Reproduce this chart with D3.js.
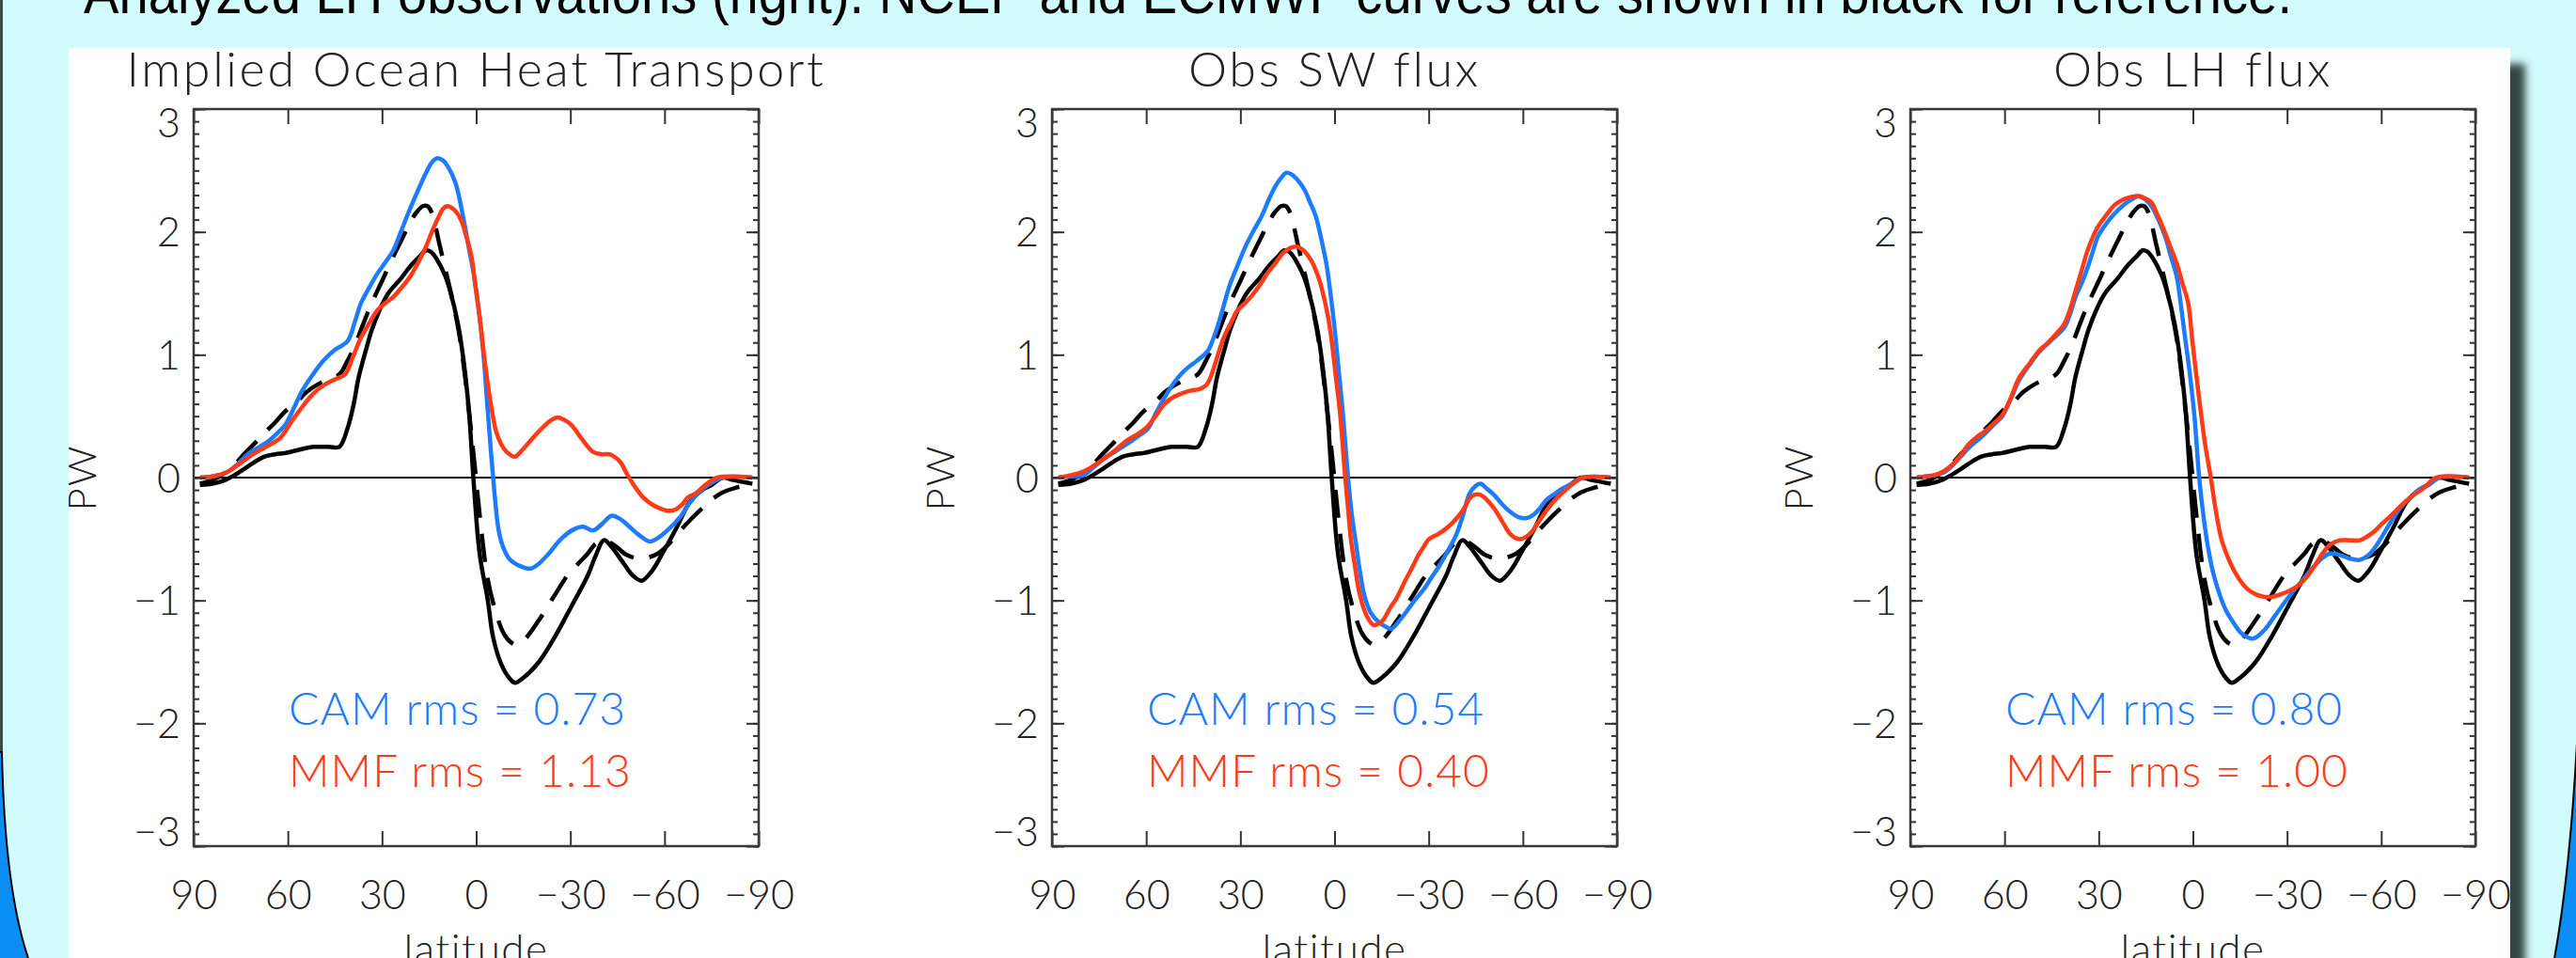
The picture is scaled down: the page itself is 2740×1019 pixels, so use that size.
<!DOCTYPE html>
<html>
<head>
<meta charset="utf-8">
<script src="https://cdn.jsdelivr.net/npm/d3@7"></script>
<style>
  html, body { margin: 0; padding: 0; background: #d2fbfb; overflow: hidden; }
  svg { display: block; }
</style>
</head>
<body>
<svg id="chart"></svg>
<script>
// reference curves (same in every panel): [latitude, PW]
var blackSolid = [[88,-0.06],[84,-0.05],[80,-0.02],[77,0.02],[74.5,0.06],[71,0.12],[67.6,0.17],[64,0.19],[60.8,0.2],[56,0.23],[52,0.25],[47,0.25],[43.6,0.25],[41,0.4],[39,0.6],[37.5,0.81],[35,1.05],[33.3,1.2],[30.5,1.38],[28,1.5],[24,1.62],[21,1.72],[18,1.8],[16,1.85],[14.5,1.84],[12.6,1.78],[10,1.65],[8.3,1.52],[5.8,1.25],[4,0.95],[2.3,0.54],[0.9,0],[-1.1,-0.62],[-3.7,-1.0],[-5.4,-1.3],[-8,-1.52],[-10.5,-1.63],[-12.3,-1.67],[-15,-1.63],[-20,-1.5],[-25.2,-1.29],[-30.3,-1.05],[-35.5,-0.8],[-38,-0.64],[-40.7,-0.51],[-43,-0.56],[-47,-0.7],[-50,-0.8],[-52.7,-0.84],[-56,-0.76],[-59.5,-0.61],[-64,-0.4],[-68,-0.2],[-72,-0.1],[-75,-0.06],[-78.5,0],[-82,-0.02],[-88,-0.05]];
var blackDashed = [[88,-0.05],[84,-0.02],[80,0.04],[76.5,0.12],[73.6,0.2],[70.5,0.28],[67.6,0.36],[64,0.45],[60.8,0.54],[57,0.62],[53.9,0.7],[49,0.78],[43.6,0.84],[41,0.95],[38.4,1.09],[35.7,1.27],[33.3,1.42],[30,1.6],[26.4,1.8],[23.5,1.95],[21.2,2.07],[19,2.16],[17,2.21],[15.5,2.21],[14.4,2.17],[13,2.05],[11.8,1.91],[9.2,1.63],[7,1.38],[4.9,1.09],[2.3,0.54],[0.6,0.13],[-1.1,-0.3],[-3.7,-0.83],[-6.3,-1.1],[-8.8,-1.27],[-11,-1.34],[-13,-1.36],[-15.7,-1.31],[-20,-1.16],[-25.2,-0.95],[-29.5,-0.78],[-32.5,-0.7],[-35.5,-0.62],[-38,-0.54],[-40.7,-0.51],[-44,-0.55],[-48,-0.63],[-52.7,-0.66],[-57.8,-0.62],[-61,-0.55],[-64.7,-0.44],[-68,-0.35],[-71.6,-0.26],[-75,-0.18],[-78.5,-0.12],[-83,-0.08],[-88,-0.05]];

// Implied Ocean Heat Transport
var camOHT = [[88,0],[84,0.01],[79.7,0.04],[76,0.11],[72.8,0.19],[69,0.25],[66,0.3],[63,0.37],[60.8,0.43],[58,0.57],[55.6,0.7],[52,0.84],[48.7,0.95],[45,1.04],[41,1.11],[38.5,1.28],[36.7,1.42],[34,1.55],[31.5,1.66],[29,1.75],[26.4,1.85],[24,2.0],[21.2,2.18],[18.5,2.34],[16,2.48],[14,2.57],[12.3,2.6],[10.5,2.58],[9.2,2.54],[6.6,2.4],[4,2.1],[2.2,1.85],[0.6,1.63],[-2,1.09],[-3.7,0.54],[-5.4,0],[-7.1,-0.42],[-8.5,-0.56],[-10.5,-0.66],[-14,-0.72],[-17.4,-0.74],[-20,-0.7],[-23.4,-0.61],[-27,-0.5],[-31.2,-0.42],[-34,-0.4],[-37.2,-0.43],[-40,-0.38],[-43.2,-0.31],[-46,-0.34],[-48.4,-0.39],[-52,-0.47],[-55.3,-0.52],[-58,-0.49],[-61.3,-0.42],[-65,-0.32],[-68.2,-0.2],[-71,-0.12],[-73.4,-0.07],[-78.5,0],[-88,0]];
var mmfOHT = [[88,0],[84,0.01],[79.7,0.04],[75,0.12],[71.1,0.19],[67,0.25],[62.5,0.32],[59,0.45],[55.6,0.57],[52,0.68],[48.7,0.75],[45,0.8],[41.8,0.84],[39,1.0],[36.7,1.14],[34,1.26],[31.5,1.36],[29,1.42],[26.4,1.47],[24,1.54],[21.2,1.63],[18.5,1.75],[16,1.88],[13.8,2.02],[11.8,2.13],[10.5,2.19],[9.2,2.21],[7,2.18],[4.9,2.1],[3,1.95],[1.5,1.8],[0.2,1.55],[-1.1,1.31],[-2.4,1.02],[-3.7,0.76],[-5,0.55],[-6.3,0.38],[-8,0.27],[-9.7,0.21],[-12.3,0.17],[-14.5,0.22],[-16.6,0.28],[-19,0.35],[-21.7,0.42],[-24,0.47],[-26,0.49],[-28,0.47],[-30.3,0.43],[-33.5,0.32],[-37.2,0.21],[-40,0.19],[-42.4,0.19],[-45.8,0.13],[-48,0.03],[-51,-0.09],[-53.5,-0.17],[-56.1,-0.22],[-58.5,-0.25],[-61.3,-0.27],[-63.5,-0.26],[-65.6,-0.22],[-67.5,-0.16],[-69.9,-0.13],[-73,-0.06],[-76.8,0],[-88,0]];

// Obs SW flux
var camSW = [[88,0],[84,0.01],[80,0.02],[76.5,0.09],[73.1,0.16],[70,0.21],[66.3,0.27],[63,0.33],[59.4,0.4],[57,0.52],[54.2,0.65],[51.5,0.76],[49,0.84],[46.5,0.9],[43.9,0.95],[40.4,1.03],[38.5,1.14],[37,1.25],[35.3,1.4],[33.6,1.55],[31,1.72],[28.4,1.88],[25.8,2.01],[23.2,2.13],[21,2.26],[18.9,2.37],[17,2.44],[15.5,2.48],[13.8,2.47],[12,2.43],[9.5,2.34],[7.8,2.24],[6,2.13],[4.3,1.95],[2.6,1.74],[1.3,1.5],[0,1.22],[-1.3,0.88],[-2.6,0.54],[-4.3,0],[-5.5,-0.3],[-6.9,-0.55],[-8,-0.75],[-9.5,-0.96],[-11.5,-1.1],[-13.8,-1.17],[-16,-1.21],[-18.1,-1.23],[-20.5,-1.17],[-23.2,-1.08],[-25.8,-0.99],[-28.4,-0.91],[-31,-0.81],[-33.6,-0.71],[-36,-0.6],[-38.7,-0.47],[-41,-0.3],[-43,-0.13],[-44.8,-0.07],[-46.5,-0.05],[-48.5,-0.09],[-50.8,-0.14],[-53.5,-0.22],[-56,-0.28],[-58.5,-0.32],[-61.1,-0.33],[-63.5,-0.3],[-65.4,-0.25],[-67.5,-0.18],[-69.7,-0.14],[-72,-0.1],[-74.8,-0.06],[-79.1,0],[-88,0]];
var mmfSW = [[88,0],[84,0.02],[80,0.05],[76.5,0.1],[73.1,0.16],[70,0.22],[66.3,0.3],[63,0.35],[60.2,0.4],[57,0.5],[54.2,0.6],[51,0.66],[48.2,0.69],[45.5,0.71],[43,0.72],[41,0.75],[39.6,0.81],[37.5,0.97],[35.3,1.14],[33,1.26],[31,1.36],[28.5,1.42],[26.7,1.47],[24,1.56],[21.5,1.66],[19,1.74],[16.3,1.83],[14,1.87],[12,1.88],[10.5,1.86],[9.5,1.84],[7.5,1.77],[6,1.69],[4.5,1.58],[3.4,1.47],[2,1.3],[0.9,1.11],[-0.5,0.8],[-1.7,0.54],[-3.4,0],[-4.3,-0.25],[-5.2,-0.5],[-6.5,-0.72],[-7.7,-0.91],[-9.5,-1.08],[-11,-1.16],[-12.5,-1.2],[-14,-1.19],[-15.5,-1.16],[-17.5,-1.07],[-19.8,-0.98],[-22.5,-0.84],[-25,-0.72],[-26.7,-0.63],[-28.5,-0.56],[-30.1,-0.5],[-33,-0.46],[-35.3,-0.42],[-37.5,-0.37],[-39.6,-0.31],[-41.5,-0.24],[-43,-0.17],[-44.5,-0.14],[-46.5,-0.14],[-48.5,-0.18],[-50.8,-0.25],[-53.5,-0.36],[-56,-0.46],[-58.6,-0.5],[-60.5,-0.49],[-62.9,-0.44],[-65,-0.36],[-67.2,-0.28],[-70,-0.19],[-73.2,-0.11],[-76,-0.05],[-79.1,0],[-88,0]];

// Obs LH flux
var camLH = [[88,0],[85,0.01],[82.3,0.02],[79.5,0.04],[76.9,0.09],[74,0.17],[71.5,0.24],[68.8,0.3],[66.1,0.36],[63.5,0.43],[60.7,0.5],[58,0.64],[55.4,0.79],[52,0.92],[49.1,1.02],[45,1.12],[41,1.22],[39,1.34],[37.4,1.47],[35.5,1.58],[33.8,1.69],[32,1.83],[30.3,1.96],[27.5,2.07],[24.9,2.15],[22.5,2.21],[20.4,2.25],[18.5,2.28],[17.2,2.29],[15,2.26],[13.2,2.21],[11,2.1],[8.8,1.96],[7,1.8],[5.1,1.63],[3.8,1.4],[2.5,1.14],[1,0.85],[-0.5,0.5],[-2,0],[-3.3,-0.3],[-4.7,-0.55],[-6.5,-0.78],[-8.5,-0.95],[-10.5,-1.08],[-12.9,-1.18],[-15.6,-1.27],[-19.2,-1.31],[-22.8,-1.24],[-26,-1.13],[-29.1,-1.02],[-31.5,-0.94],[-34.4,-0.85],[-38,-0.74],[-41,-0.66],[-43.4,-0.62],[-46.9,-0.63],[-50,-0.66],[-53.2,-0.67],[-55.5,-0.64],[-57.7,-0.58],[-60.5,-0.47],[-63.1,-0.36],[-66,-0.25],[-69.3,-0.16],[-72.5,-0.09],[-75.6,-0.05],[-78.3,0],[-88,0]];
var mmfLH = [[88,0],[85,0.01],[82.3,0.02],[79.5,0.05],[76.9,0.1],[74,0.18],[71.5,0.27],[68.8,0.33],[66.1,0.38],[63.5,0.44],[60.7,0.51],[58,0.65],[55.4,0.81],[52,0.93],[49.1,1.03],[46.5,1.09],[44.6,1.14],[41,1.25],[39,1.38],[37.4,1.52],[35.5,1.68],[33.8,1.83],[32,1.95],[30.3,2.04],[27.5,2.14],[24.9,2.22],[22.5,2.26],[20.4,2.28],[18.5,2.29],[16.8,2.29],[15,2.27],[13.2,2.24],[11.5,2.15],[9.6,2.04],[7.5,1.9],[5.1,1.74],[3.3,1.58],[1.5,1.42],[0.2,1.12],[-1.2,0.81],[-2.5,0.54],[-3.9,0.27],[-5.7,0],[-7.5,-0.3],[-9.3,-0.52],[-12,-0.7],[-14.6,-0.82],[-17.5,-0.91],[-20,-0.95],[-22.5,-0.97],[-25.4,-0.97],[-28,-0.95],[-30.8,-0.92],[-33.5,-0.88],[-36.2,-0.81],[-39,-0.71],[-41.5,-0.61],[-44,-0.54],[-46.9,-0.51],[-50,-0.51],[-53.2,-0.51],[-55.5,-0.48],[-57.7,-0.44],[-60.5,-0.37],[-63.1,-0.31],[-65.8,-0.24],[-68.4,-0.18],[-71,-0.13],[-73.8,-0.08],[-77.4,0],[-88,0]];

var titles = ["Implied Ocean Heat Transport", "Obs SW flux", "Obs LH flux"];
var camRms = ["0.73", "0.54", "0.80"];
var mmfRms = ["1.13", "0.40", "1.00"];
var camSeries = [camOHT, camSW, camLH];
var mmfSeries = [mmfOHT, mmfSW, mmfLH];

var xTicks = [90, 60, 30, 0, -30, -60, -90];
var yTicks = [3, 2, 1, 0, -1, -2, -3];
var header = "Analyzed LH observations (right). NCEP and ECMWF curves are shown in black for reference.";

var width = 2740;
var height = 1019;
var blue = "#1c7bff";
var red = "#ff3a16";
var font = "Lato, 'Open Sans', sans-serif";

var svg = d3.select("#chart")
	.attr("width", width)
	.attr("height", height);

// slide background
svg.append("rect").attr("width", width).attr("height", height).attr("fill", "#d2fbfb");

svg.append("rect").attr("x", 0).attr("y", 0).attr("width", 3).attr("height", 840).attr("fill", "#3b4949");
svg.append("path")
	.attr("d", "M-5,800 L2,800 C4,900 14,975 32,1025 L-5,1025 Z")
	.attr("fill", "#0a8ef3").attr("stroke", "#000").attr("stroke-width", 2);
svg.append("path")
	.attr("d", "M2745,700 C2741,820 2732,940 2716,1025 L2745,1025 Z")
	.attr("fill", "#0a8ef3").attr("stroke", "#000").attr("stroke-width", 2);

var defs = svg.append("defs");
defs.append("filter").attr("id", "blur")
	.attr("x", "-5%").attr("y", "-5%").attr("width", "110%").attr("height", "110%")
	.append("feGaussianBlur").attr("stdDeviation", 4);
defs.append("clipPath").attr("id", "panel")
	.append("rect").attr("x", 73).attr("y", 51).attr("width", 2597).attr("height", 980);

// header line, cut by the top of the picture
svg.append("text")
	.attr("x", 89).attr("y", 14)
	.attr("font-family", "'Liberation Sans Narrow', 'Liberation Sans', sans-serif")
	.attr("font-size", 62)
	.attr("textLength", 2349)
	.attr("lengthAdjust", "spacingAndGlyphs")
	.attr("fill", "#000")
	.text(header);

// shadow + white panel
svg.append("rect").attr("x", 100).attr("y", 68).attr("width", 2586).attr("height", 1000)
	.attr("fill", "#354545").attr("filter", "url(#blur)");
svg.append("rect").attr("x", 73).attr("y", 51).attr("width", 2597).attr("height", 1000).attr("fill", "#fff");

var root = svg.append("g").attr("clip-path", "url(#panel)");

var plotW = 601;
var plotTop = 116, plotBottom = 900;
var minorTicks = d3.range(-30, 31).map(function (d) { return d / 10; });

function fmt(d) { return d < 0 ? "\u2212" + Math.abs(d) : String(d); }

titles.forEach(function (title, i) {
	var left = 206 + i * 913;
	var xScale = d3.scaleLinear().domain([90, -90]).range([left, left + plotW]);
	var yScale = d3.scaleLinear().domain([-3, 3]).range([plotBottom, plotTop]);
	var g = root.append("g");

	// zero line
	g.append("line")
		.attr("x1", left).attr("x2", left + plotW)
		.attr("y1", yScale(0)).attr("y2", yScale(0))
		.attr("stroke", "#000").attr("stroke-width", 2);

	var line = d3.line()
		.x(function (d) { return xScale(d[0]); })
		.y(function (d) { return yScale(d[1]); })
		.curve(d3.curveCatmullRom.alpha(0.5));

	g.append("path").datum(blackSolid).attr("d", line)
		.attr("fill", "none").attr("stroke", "#000").attr("stroke-width", 4.5);
	g.append("path").datum(blackDashed).attr("d", line)
		.attr("fill", "none").attr("stroke", "#000").attr("stroke-width", 4.5)
		.attr("stroke-dasharray", "30,17");
	g.append("path").datum(camSeries[i]).attr("d", line)
		.attr("fill", "none").attr("stroke", blue).attr("stroke-width", 4.5);
	g.append("path").datum(mmfSeries[i]).attr("d", line)
		.attr("fill", "none").attr("stroke", red).attr("stroke-width", 4.5);

	// axes, ticks inward like the original
	var yAxisL = g.append("g").attr("transform", "translate(" + left + ",0)")
		.call(d3.axisLeft(yScale).tickValues(yTicks).tickSize(-13).tickPadding(14).tickFormat(fmt));
	g.append("g").attr("transform", "translate(" + left + ",0)")
		.call(d3.axisLeft(yScale).tickValues(minorTicks).tickSize(-6).tickFormat(""));
	g.append("g").attr("transform", "translate(" + (left + plotW) + ",0)")
		.call(d3.axisRight(yScale).tickValues(yTicks).tickSize(-13).tickFormat(""));
	g.append("g").attr("transform", "translate(" + (left + plotW) + ",0)")
		.call(d3.axisRight(yScale).tickValues(minorTicks).tickSize(-6).tickFormat(""));
	g.append("g").attr("transform", "translate(0," + plotBottom + ")")
		.call(d3.axisBottom(xScale).tickValues(xTicks).tickSize(-16).tickPadding(36).tickFormat(fmt));
	g.append("g").attr("transform", "translate(0," + plotTop + ")")
		.call(d3.axisTop(xScale).tickValues(xTicks).tickSize(-16).tickFormat(""));

	g.selectAll(".domain").remove();
	g.selectAll(".tick line").attr("stroke", "#333").attr("stroke-width", 2);
	g.selectAll(".tick text").attr("font-family", font).attr("font-weight", 300)
		.attr("font-size", 43).attr("fill", "#222");
	yAxisL.selectAll(".tick text").attr("dy", function (d) {
		if (d == 3) return 29;
		if (d == -3) return -1;
		return 15;
	});

	g.append("rect")
		.attr("x", left).attr("y", plotTop).attr("width", plotW).attr("height", plotBottom - plotTop)
		.attr("fill", "none").attr("stroke", "#3a3a3a").attr("stroke-width", 2.5);

	g.append("text")
		.attr("x", left + plotW / 2).attr("y", 92)
		.attr("text-anchor", "middle")
		.attr("font-family", font).attr("font-weight", 300).attr("font-size", 52)
		.attr("letter-spacing", 2.7)
		.attr("fill", "#222")
		.text(title);

	g.append("text")
		.attr("transform", "translate(" + (left - 104) + "," + yScale(0) + ") rotate(-90)")
		.attr("text-anchor", "middle")
		.attr("font-family", font).attr("font-weight", 300).attr("font-size", 42)
		.attr("letter-spacing", 2)
		.attr("fill", "#222")
		.text("PW");

	g.append("text")
		.attr("x", left + plotW / 2).attr("y", 1025)
		.attr("text-anchor", "middle")
		.attr("font-family", font).attr("font-weight", 300).attr("font-size", 44)
		.attr("letter-spacing", 1.5)
		.attr("fill", "#222")
		.text("latitude");

	g.append("text")
		.attr("x", left + 101).attr("y", 771)
		.attr("font-family", font).attr("font-weight", 300).attr("font-size", 48)
		.attr("letter-spacing", 1)
		.attr("fill", blue)
		.text("CAM rms = " + camRms[i]);
	g.append("text")
		.attr("x", left + 101).attr("y", 837)
		.attr("font-family", font).attr("font-weight", 300).attr("font-size", 48)
		.attr("letter-spacing", 1)
		.attr("fill", red)
		.text("MMF rms = " + mmfRms[i]);
});
</script>
</body>
</html>
